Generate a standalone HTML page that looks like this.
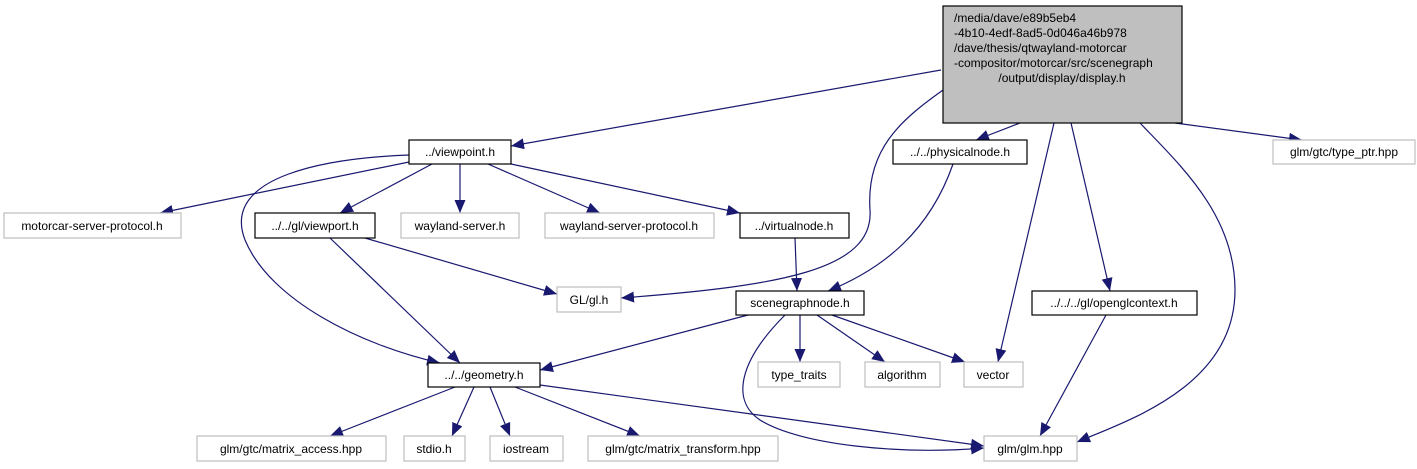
<!DOCTYPE html>
<html><head><meta charset="utf-8"><style>
html,body{margin:0;padding:0;background:#fff;}
svg{display:block;}
text{font-family:"Liberation Sans",sans-serif;font-size:12px;fill:#000;}
</style></head><body>
<svg width="1417" height="469" viewBox="0 0 1417 469" xmlns="http://www.w3.org/2000/svg">
<defs>
<marker id="a" markerUnits="userSpaceOnUse" markerWidth="14" markerHeight="12" refX="13" refY="5.5" orient="auto">
<path d="M0,0 L13,5.5 L0,11 Z" fill="#191970"/>
</marker>
</defs>
<g fill="none" stroke="#191970" stroke-width="1.2" marker-end="url(#a)">
<path d="M941,70 L511,146"/>
<path d="M946,88 C900,120 866,150 870,210 C874,270 780,286 621,298"/>
<path d="M1020,123 L976,140"/>
<path d="M1054,123 L998,362"/>
<path d="M1071,123 L1110,291"/>
<path d="M1140,123 C1180,165 1235,215 1235,290 C1235,385 1130,420 1077,442"/>
<path d="M1175,123 L1302,140"/>
<path d="M409,162 L160,213"/>
<path d="M409,155 C330,158 220,175 245,240 C270,300 360,345 440,363"/>
<path d="M432,164 L340,213"/>
<path d="M460,164 L460,213"/>
<path d="M488,164 L600,213"/>
<path d="M511,164 L740,213"/>
<path d="M365,238 L557,294"/>
<path d="M330,238 L460,363"/>
<path d="M795,238 L797,291"/>
<path d="M953,164 C930,230 885,268 828,291"/>
<path d="M748,315 L540,370"/>
<path d="M800,315 L800,362"/>
<path d="M817,315 L885,362"/>
<path d="M832,315 L965,362"/>
<path d="M785,315 C740,360 730,400 760,420 C800,445 900,455 984,448"/>
<path d="M1106,315 L1040,436"/>
<path d="M540,385 L984,446"/>
<path d="M455,387 L330,436"/>
<path d="M474,387 L452,436"/>
<path d="M490,387 L510,436"/>
<path d="M515,387 L640,436"/>
</g>
<g stroke-width="1.2">
<rect x="943" y="6" width="239" height="117" fill="#bfbfbf" stroke="#000"/>
<rect x="409" y="140" width="102" height="24" fill="#fff" stroke="#000"/>
<rect x="893" y="140" width="134" height="24" fill="#fff" stroke="#000"/>
<rect x="1273" y="140" width="142" height="24" fill="#fff" stroke="#bfbfbf"/>
<rect x="4" y="213" width="177" height="25" fill="#fff" stroke="#bfbfbf"/>
<rect x="255" y="213" width="120" height="25" fill="#fff" stroke="#000"/>
<rect x="401" y="213" width="118" height="25" fill="#fff" stroke="#bfbfbf"/>
<rect x="545" y="213" width="169" height="25" fill="#fff" stroke="#bfbfbf"/>
<rect x="740" y="213" width="109" height="25" fill="#fff" stroke="#000"/>
<rect x="557" y="287" width="64" height="25" fill="#fff" stroke="#bfbfbf"/>
<rect x="736" y="291" width="128" height="24" fill="#fff" stroke="#000"/>
<rect x="1032" y="291" width="165" height="24" fill="#fff" stroke="#000"/>
<rect x="428" y="363" width="112" height="24" fill="#fff" stroke="#000"/>
<rect x="758" y="362" width="82" height="25" fill="#fff" stroke="#bfbfbf"/>
<rect x="865" y="362" width="75" height="25" fill="#fff" stroke="#bfbfbf"/>
<rect x="964" y="362" width="59" height="25" fill="#fff" stroke="#bfbfbf"/>
<rect x="197" y="436" width="189" height="25" fill="#fff" stroke="#bfbfbf"/>
<rect x="404" y="436" width="61" height="25" fill="#fff" stroke="#bfbfbf"/>
<rect x="490" y="436" width="73" height="25" fill="#fff" stroke="#bfbfbf"/>
<rect x="588" y="436" width="190" height="25" fill="#fff" stroke="#bfbfbf"/>
<rect x="984" y="436" width="93" height="25" fill="#fff" stroke="#bfbfbf"/>
</g>
<g>
<text x="954" y="22">/media/dave/e89b5eb4</text>
<text x="954" y="37">-4b10-4edf-8ad5-0d046a46b978</text>
<text x="954" y="52">/dave/thesis/qtwayland-motorcar</text>
<text x="954" y="67">-compositor/motorcar/src/scenegraph</text>
<text x="1062" y="82" text-anchor="middle">/output/display/display.h</text>
</g>
<g text-anchor="middle">
<text x="460" y="156">../viewpoint.h</text>
<text x="960" y="156">../../physicalnode.h</text>
<text x="1344" y="156">glm/gtc/type_ptr.hpp</text>
<text x="92" y="230">motorcar-server-protocol.h</text>
<text x="315" y="230">../../gl/viewport.h</text>
<text x="460" y="230">wayland-server.h</text>
<text x="629" y="230">wayland-server-protocol.h</text>
<text x="794" y="230">../virtualnode.h</text>
<text x="589" y="304">GL/gl.h</text>
<text x="800" y="307">scenegraphnode.h</text>
<text x="1114" y="307">../../../gl/openglcontext.h</text>
<text x="484" y="379">../../geometry.h</text>
<text x="799" y="379">type_traits</text>
<text x="902" y="379">algorithm</text>
<text x="993" y="379">vector</text>
<text x="291" y="453">glm/gtc/matrix_access.hpp</text>
<text x="434" y="453">stdio.h</text>
<text x="526" y="453">iostream</text>
<text x="683" y="453">glm/gtc/matrix_transform.hpp</text>
<text x="1030" y="453">glm/glm.hpp</text>
</g>
</svg>
</body></html>
